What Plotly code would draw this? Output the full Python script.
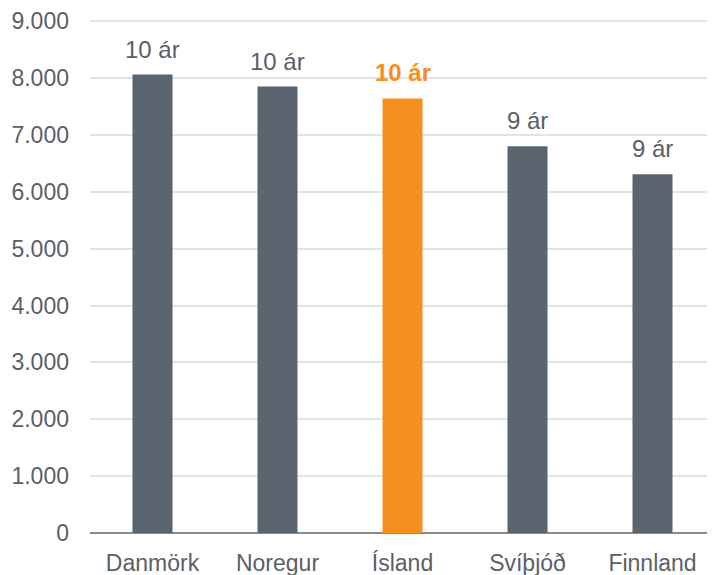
import plotly.graph_objects as go

# country, value, label above bar
countries = ["Danmörk", "Noregur", "Ísland", "Svíþjóð", "Finnland"]
values = [8060, 7850, 7640, 6800, 6310]
labels = ["10 ár", "10 ár", "10 ár", "9 ár", "9 ár"]
highlight = "Ísland"

ytick_vals = [0, 1000, 2000, 3000, 4000, 5000, 6000, 7000, 8000, 9000]
ytick_text = ["0", "1.000", "2.000", "3.000", "4.000", "5.000", "6.000", "7.000", "8.000", "9.000"]

grey = "#5b6570"
orange = "#f78f1e"
text_grey = "#5a6068"

bar_colors = [orange if c == highlight else grey for c in countries]

fig = go.Figure()
fig.add_trace(go.Bar(
    x=countries, y=values,
    marker=dict(color=bar_colors, line=dict(width=0)),
    width=0.32,
    hoverinfo="x+y",
))

# labels above each bar
for c, v, lab in zip(countries, values, labels):
    is_hl = c == highlight
    fig.add_annotation(
        x=c, y=v, text="<b>" + lab + "</b>" if is_hl else lab,
        showarrow=False, yanchor="bottom", yshift=10,
        font=dict(size=24, color=orange if is_hl else text_grey,
                  family="Liberation Sans, Arial, sans-serif"),
    )

# page body has an 8px margin, so the figure is a bit smaller and shifted;
# range goes a hair past 9000 so the top gridline is still drawn
fig.update_layout(
    width=707, height=567,
    margin=dict(l=82, r=0, t=12, b=42),
    paper_bgcolor="white", plot_bgcolor="white",
    showlegend=False,
    font=dict(family="Liberation Sans, Arial, sans-serif", size=23, color=text_grey),
)
fig.update_xaxes(
    automargin=False,
    showgrid=False, showline=False, zeroline=False,
    ticks="", ticklabelstandoff=14,
    tickfont=dict(size=23, color=text_grey),
)
fig.update_yaxes(
    automargin=False,
    range=[0, 9020], tickvals=ytick_vals, ticktext=ytick_text,
    showgrid=True, gridcolor="#e3e3e3", gridwidth=2,
    zeroline=True, zerolinecolor="#8a8a8a", zerolinewidth=2,
    showline=False, ticks="", ticklabelstandoff=20,
    tickfont=dict(size=23, color=text_grey),
)

fig.write_html("out.html")
